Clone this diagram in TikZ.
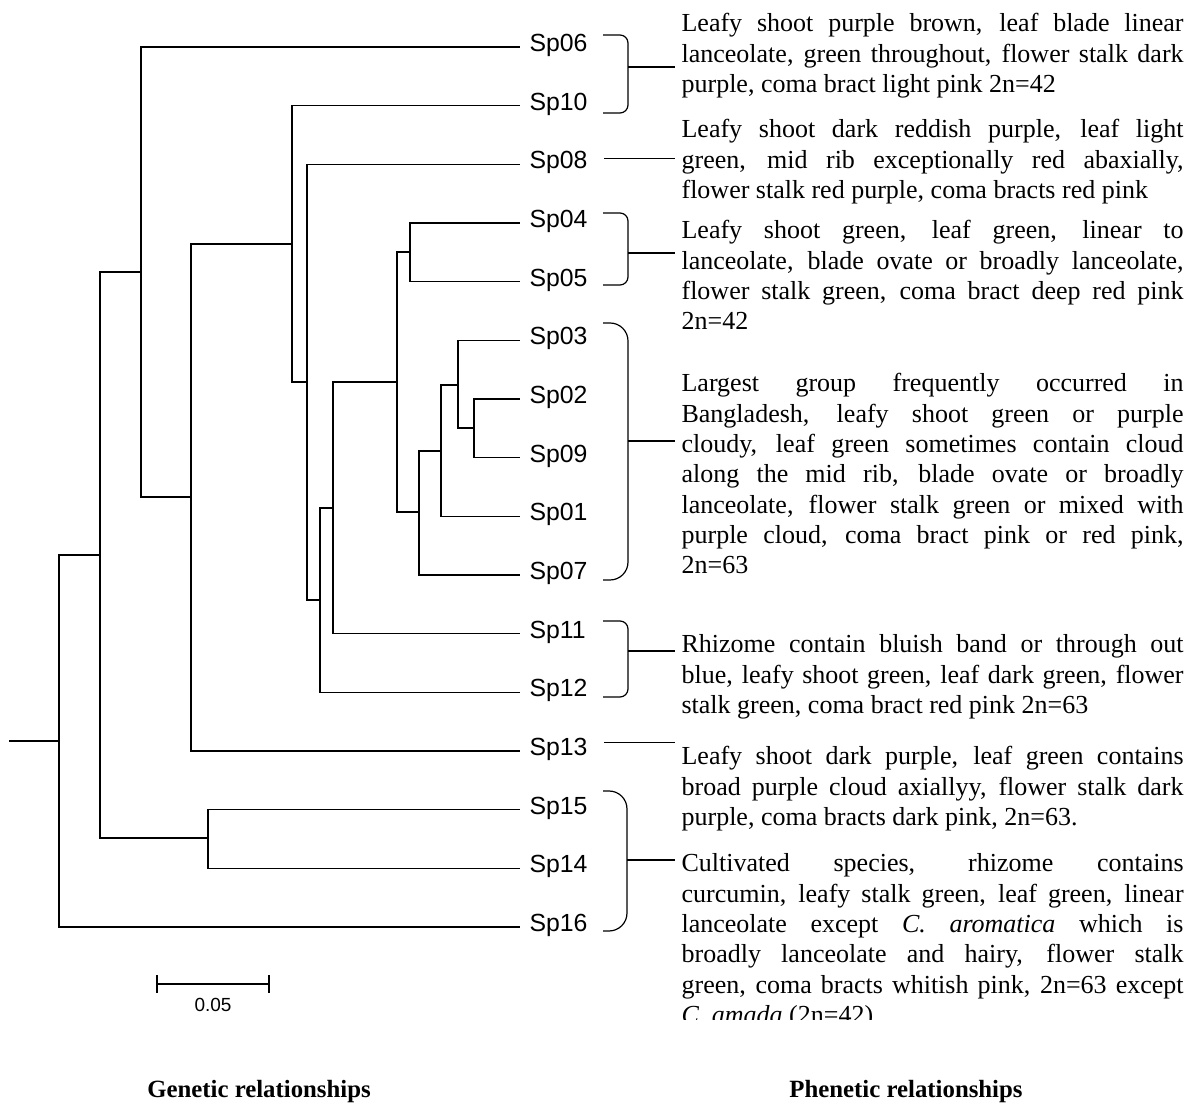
\documentclass[tikz,border=0pt]{standalone}
\usepackage{fontspec}
\setmainfont{Liberation Serif}
\setsansfont{Liberation Sans}
\usepackage{tikz}
\tolerance=10000
\hbadness=10000
\tikzset{
  sp/.style={anchor=mid west, inner xsep=4.5pt, inner ysep=0pt,
    font=\sffamily\fontsize{12.4}{14}\selectfont},
  desc/.style={anchor=base west, inner xsep=3pt, inner ysep=0pt,
    text width=251pt, align=justify, font=\fontsize{13}{15.15}\selectfont},
  brk/.style={rounded corners=4pt},
  bigbrk/.style={rounded corners=9pt},
  title/.style={anchor=base, font=\bfseries\fontsize{12.4}{14}\selectfont}
}

\begin{document}
\begin{tikzpicture}[x=0.5pt, y=-0.5pt, line width=0.6pt]
\newcommand{\leafx}{520}
\newcommand{\dy}{58.67}
\useasboundingbox (0,0) rectangle (1196,1106);
%% leaves
\foreach \s [count=\k from 0] in {06,10,08,04,05,03,02,09,01,07,11,12,13,15,14,16}
  \node[sp] (s\s) at (\leafx, 47+\k*\dy) {Sp\s};
%% inner nodes of the tree
\coordinate (root) at (9,741);
\coordinate (r) at (59,741);
\coordinate (a) at (100,555);
\coordinate (b) at (141,272);
\coordinate (c) at (208,838);
\coordinate (d) at (191,497);
\coordinate (e) at (292,244);
\coordinate (f) at (307,382);
\coordinate (g) at (320,600);
\coordinate (h) at (333,508);
\coordinate (i) at (397,382);
\coordinate (j) at (410,252);
\coordinate (k) at (419,512);
\coordinate (l) at (441,451);
\coordinate (m) at (458,385);
\coordinate (n) at (474,428);
\draw (root) -- (r);
\foreach \p/\c in {r/a,a/b,a/c,b/d,d/e,e/f,f/g,g/h,h/i,i/j,i/k,k/l,l/m,m/n}
  \draw (\p) |- (\c);
\foreach \p/\c in {r/16,c/15,c/14,b/06,d/13,e/10,f/08,g/12,h/11,j/04,j/05,k/07,l/01,m/03,n/02,n/09}
  \draw (\p) |- (s\c.mid west);
%% scale bar
\coordinate (sb0) at (157,984);
\coordinate (sb1) at (269,984);
\draw (sb0) -- (sb1);
\draw (sb0) ++(0,-9) -- ++(0,18);
\draw (sb1) ++(0,-9) -- ++(0,18);
\node[anchor=base, inner sep=0pt, font=\sffamily\fontsize{9.5}{11}\selectfont] (sbl) at (213,1012) {0.05};
%% descriptions
\node[desc] (d1) at (675,32) {Leafy shoot purple brown, leaf blade linear\linebreak
  lanceolate, green throughout, flower stalk dark\linebreak
  purple, coma bract light pink 2n=42};
\node[desc] (d2) at (675,138) {Leafy shoot dark reddish purple, leaf light\linebreak
  green, mid rib exceptionally red abaxially,\linebreak
  flower stalk red purple, coma bracts red pink};
\node[desc] (d3) at (675,239) {Leafy shoot green, leaf green, linear to\linebreak
  lanceolate, blade ovate or broadly lanceolate,\linebreak
  flower stalk green, coma bract deep red pink\linebreak
  2n=42};
\node[desc] (d4) at (675,392) {Largest group frequently occurred in\linebreak
  Bangladesh, leafy shoot green or purple\linebreak
  cloudy, leaf green sometimes contain cloud\linebreak
  along the mid rib, blade ovate or broadly\linebreak
  lanceolate, flower stalk green or mixed with\linebreak
  purple cloud, coma bract pink or red pink,\linebreak
  2n=63};
\node[desc] (d5) at (675,653) {Rhizome contain bluish band or through out\linebreak
  blue, leafy shoot green, leaf dark green, flower\linebreak
  stalk green, coma bract red pink 2n=63};
\node[desc] (d6) at (675,765) {Leafy shoot dark purple, leaf green contains\linebreak
  broad purple cloud axiallyy, flower stalk dark\linebreak
  purple, coma bracts dark pink, 2n=63.};
\begin{scope}
  \clip (660,840) rectangle (1196,1020);
  \node[desc] (d7) at (675,872) {Cultivated species, rhizome contains\linebreak
    curcumin, leafy stalk green, leaf green, linear\linebreak
    lanceolate except \textit{C. aromatica} which is\linebreak
    broadly lanceolate and hairy, flower stalk\linebreak
    green, coma bracts whitish pink, 2n=63 except\linebreak
    \textit{C. amada} (2n=42).};
\end{scope}
%% brackets
\draw[brk] (603,35) -- (628,35) -- (628,113) -- (603,113);
\draw[brk] (603,213) -- (628,213) -- (628,285) -- (603,285);
\draw[bigbrk] (603,323) -- (628,323) -- (628,580) -- (603,580);
\draw[brk] (603,621) -- (628,621) -- (628,697) -- (603,697);
\draw[bigbrk] (603,791) -- (627,791) -- (627,931) -- (603,931);
\coordinate (k1) at (628,67);
\coordinate (k3) at (628,253);
\coordinate (k4) at (628,441);
\coordinate (k5) at (628,651);
\coordinate (k7) at (627,860);
\draw (k1) -- (k1 -| d1.west);
\draw (k3) -- (k3 -| d3.west);
\draw (k4) -- (k4 -| d4.west);
\draw (k5) -- (k5 -| d5.west);
\draw (k7) -- (k7 -| d7.west);
\draw[shorten <=3.5pt] ([yshift=2pt]s08.east) -- ([yshift=2pt]s08.east -| d2.west);
\draw[shorten <=3.5pt] ([yshift=3.5pt]s13.east) -- ([yshift=3.5pt]s13.east -| d6.west);
%% titles
\node[title] (gen) at (259,1098) {Genetic relationships};
\node[title] (phen) at (906,1098) {Phenetic relationships};
\end{tikzpicture}
\end{document}
